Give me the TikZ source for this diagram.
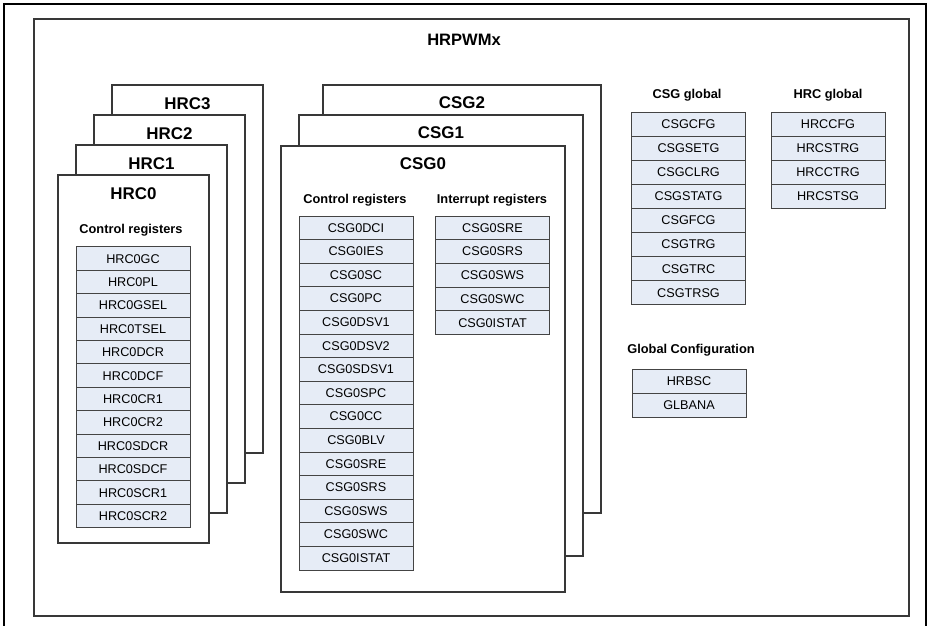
\documentclass[tikz,border=0pt]{standalone}
\usepackage{fontspec}
\setmainfont{Liberation Sans}
\usepackage{xcolor}
\definecolor{regFill}{HTML}{E6ECF6}
\definecolor{edgeGray}{HTML}{383838}
\definecolor{regEdge}{HTML}{444444}

\begin{document}
\begin{tikzpicture}[x=0.75pt,y=-0.75pt,
  block/.style={draw=edgeGray, line width=1.1pt, fill=white},
  title/.style={font=\fontsize{12.7}{14}\selectfont\bfseries},
  heading/.style={font=\fontsize{9.6}{11}\selectfont\bfseries},
  reg/.style={draw=regEdge, line width=0.75pt, fill=regFill, inner sep=0pt,
    minimum width=85.5pt, minimum height=17.7pt, font=\fontsize{9.5}{11}\selectfont},
  greg/.style={reg, minimum height=18pt}]
  \useasboundingbox (0,0) rectangle (928,625);
  \clip (0,0) rectangle (928,625);
  % Outer page frame and module frame
  \draw[black, line width=0.8pt] (4,640) -- (4,4) -- (926,4) -- (926,640);
  \draw[edgeGray, line width=1.1pt] (34,19) rectangle (909,616);
  \node[font=\fontsize{12.4}{14}\selectfont\bfseries] (hrpwm) at (464,40) {HRPWMx};

  % HRC stack, back to front
  \foreach \k in {3,2,1,0} {
    \draw[block] ({58+18*\k},{175-30*\k}) rectangle ({209+18*\k},{543-30*\k});
    \node[title] (hrc\k) at ({133.5+18*\k},{194-30*\k}) {HRC\k};
  }
  \node[heading] (hrcctl) at (131,230) {Control registers};
  \foreach \name [count=\i from 0] in {HRC0GC,HRC0PL,HRC0GSEL,HRC0TSEL,HRC0DCR,HRC0DCF,
      HRC0CR1,HRC0CR2,HRC0SDCR,HRC0SDCF,HRC0SCR1,HRC0SCR2}
    \node[reg] (hrcr\i) at (133,{247+23.4*(\i+0.5)}) {\name};

  % CSG stack, back to front
  \foreach \k/\l/\t/\r/\b in {2/323/85/601/513, 1/299/115/583/556, 0/281/146/565/592} {
    \draw[block] (\l,\t) rectangle (\r,\b);
    \node[title] (csg\k) at ({(\l+\r)/2},{\t+18}) {CSG\k};
  }
  \node[heading] (csgctl) at (355,200) {Control registers};
  \node[heading] (csgint) at (492,200) {Interrupt registers};
  \foreach \name [count=\i from 0] in {CSG0DCI,CSG0IES,CSG0SC,CSG0PC,CSG0DSV1,CSG0DSV2,
      CSG0SDSV1,CSG0SPC,CSG0CC,CSG0BLV,CSG0SRE,CSG0SRS,CSG0SWS,CSG0SWC,CSG0ISTAT}
    \node[reg] (csgr\i) at (356,{216+23.6*(\i+0.5)}) {\name};
  \foreach \name [count=\i from 0] in {CSG0SRE,CSG0SRS,CSG0SWS,CSG0SWC,CSG0ISTAT}
    \node[reg] (csgi\i) at (492.5,{216+23.7*(\i+0.5)}) {\name};

  % Global registers
  \node[heading] (csgglb) at (687,95) {CSG global};
  \foreach \name [count=\i from 0] in {CSGCFG,CSGSETG,CSGCLRG,CSGSTATG,CSGFCG,CSGTRG,CSGTRC,CSGTRSG}
    \node[greg] (cg\i) at (688.5,{112+24.1*(\i+0.5)}) {\name};
  \node[heading] (hrcglb) at (828,95) {HRC global};
  \foreach \name [count=\i from 0] in {HRCCFG,HRCSTRG,HRCCTRG,HRCSTSG}
    \node[greg] (hg\i) at (828,{112+24*(\i+0.5)}) {\name};
  \node[heading] (glbcfg) at (691,350) {Global Configuration};
  \foreach \name [count=\i from 0] in {HRBSC,GLBANA}
    \node[greg] (gc\i) at (689,{369+24*(\i+0.5)}) {\name};
\end{tikzpicture}
\end{document}
